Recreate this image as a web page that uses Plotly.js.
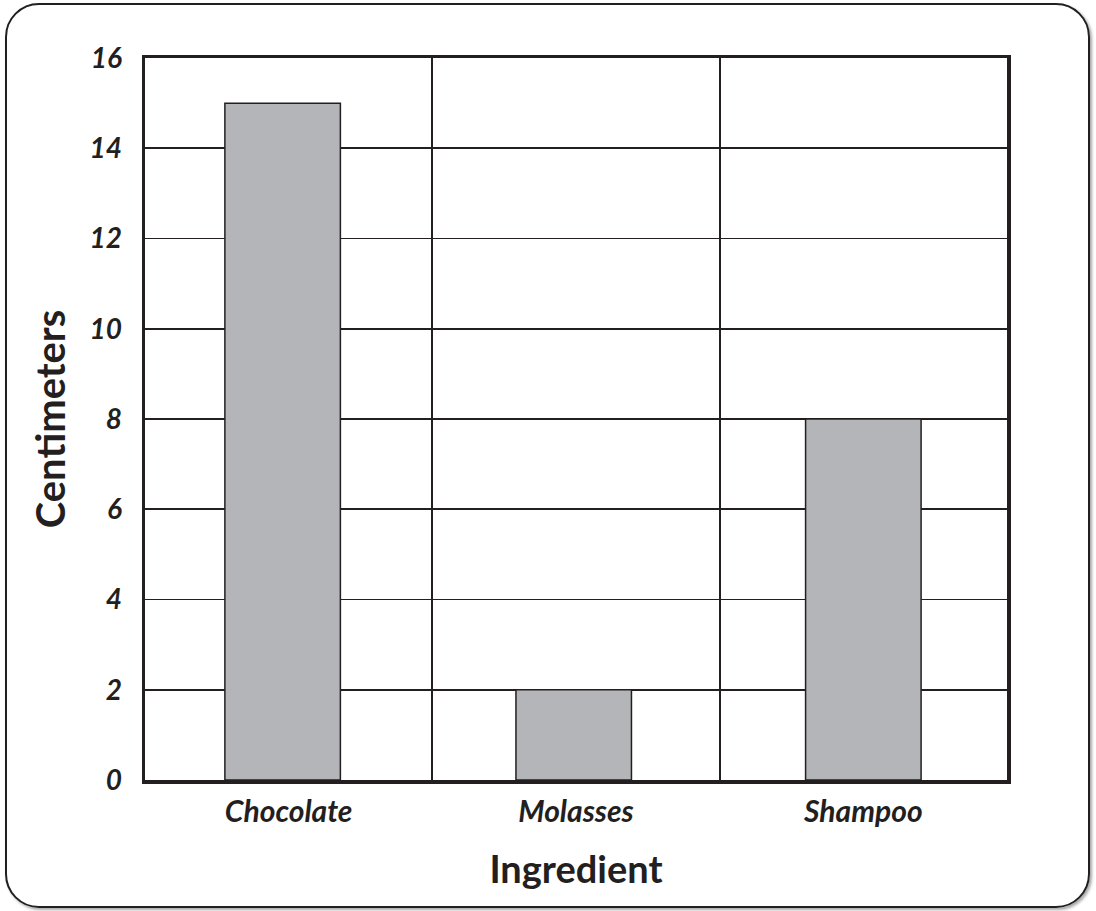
<!DOCTYPE html>
<html>
<head>
<meta charset="utf-8">
<script src="https://cdn.plot.ly/plotly-3.0.1.min.js"></script>
<style>
  html, body { margin: 0; padding: 0; background: #ffffff; }
  #frame {
    position: absolute; left: 5px; top: 3px; width: 1081px; height: 901px;
    border: 2.5px solid #231f20; border-radius: 34px;
    box-shadow: 2px 2px 3px rgba(0,0,0,0.35);
  }
  #chart { position: absolute; left: 0; top: 0; width: 1096px; height: 911px; }
</style>
</head>
<body>
<div id="frame"></div>
<div id="chart"></div>
<script>
const categories = ["Chocolate", "Molasses", "Shampoo"];
const centimeters = [15, 2, 8];
const yTickValues = [0, 2, 4, 6, 8, 10, 12, 14, 16];
const yTickLabels = ["0", "2", "4", "6", "8", "10", "12", "14", "16"];

const ink = "#231f20";

const trace = {
  type: "bar",
  x: categories,
  y: centimeters,
  width: 0.402,
  offset: [-0.222, -0.209, -0.201],
  marker: { color: "#b4b5b9", line: { color: ink, width: 1.5 } },
  hoverinfo: "x+y"
};

const layout = {
  width: 1096, height: 911,
  margin: { l: 145, r: 89, t: 58, b: 131, pad: 0 },
  paper_bgcolor: "rgba(0,0,0,0)",
  plot_bgcolor: "#ffffff",
  showlegend: false,
  xaxis: {
    type: "category",
    tickson: "boundaries",
    showgrid: true, gridcolor: ink, gridwidth: 1.8,
    showline: true, linecolor: ink, linewidth: 3.5, mirror: true,
    ticks: "", ticklabelstandoff: 2,
    tickfont: { family: "Lato", size: 30, color: ink, weight: "bold", style: "italic" },
    title: { text: "Ingredient", standoff: 31,
      font: { family: "Lato", size: 38, color: ink, weight: "bold" } },
    fixedrange: true
  },
  yaxis: {
    range: [0, 16],
    tickvals: yTickValues, ticktext: yTickLabels,
    showgrid: true, gridcolor: ink, gridwidth: 1.8,
    zeroline: false,
    showline: true, linecolor: ink, linewidth: 3.5, mirror: true,
    ticks: "", ticklabelstandoff: 14,
    tickfont: { family: "Lato", size: 28, color: ink, weight: "bold", style: "italic" },
    title: { text: "Centimeters", standoff: 12,
      font: { family: "Lato", size: 40, color: ink, weight: "bold" } },
    fixedrange: true
  }
};

Plotly.newPlot("chart", [trace], layout, { displayModeBar: false, staticPlot: true });
</script>
</body>
</html>
